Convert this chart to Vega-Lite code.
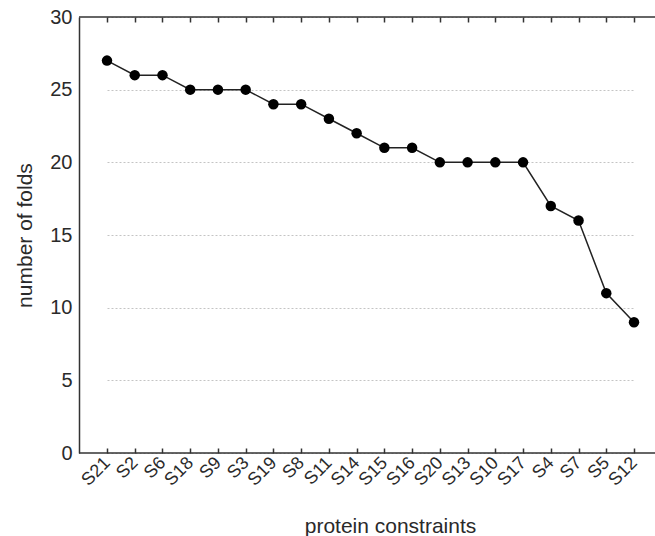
{
  "$schema": "https://vega.github.io/schema/vega-lite/v6.json",
  "width": 576,
  "height": 436,
  "autosize": {"type": "none"},
  "padding": {"left": 79, "top": 17, "right": 0, "bottom": 83},
  "background": "#ffffff",
  "config": {
    "view": {"stroke": null},
    "font": "Liberation Sans",
    "axis": {"labelFont": "Liberation Sans", "titleFont": "Liberation Sans", "labelColor": "#2a2a2a", "titleColor": "#2a2a2a", "titleFontWeight": "normal"}
  },
  "data": {
    "values": [
      {"constraint": "S21", "folds": 27},
      {"constraint": "S2", "folds": 26},
      {"constraint": "S6", "folds": 26},
      {"constraint": "S18", "folds": 25},
      {"constraint": "S9", "folds": 25},
      {"constraint": "S3", "folds": 25},
      {"constraint": "S19", "folds": 24},
      {"constraint": "S8", "folds": 24},
      {"constraint": "S11", "folds": 23},
      {"constraint": "S14", "folds": 22},
      {"constraint": "S15", "folds": 21},
      {"constraint": "S16", "folds": 21},
      {"constraint": "S20", "folds": 20},
      {"constraint": "S13", "folds": 20},
      {"constraint": "S10", "folds": 20},
      {"constraint": "S17", "folds": 20},
      {"constraint": "S4", "folds": 17},
      {"constraint": "S7", "folds": 16},
      {"constraint": "S5", "folds": 11},
      {"constraint": "S12", "folds": 9}
    ]
  },
  "layer": [
    {
      "mark": {"type": "line", "color": "#222", "strokeWidth": 1.5},
      "encoding": {
        "x": {
          "field": "constraint", "type": "ordinal", "sort": null,
          "scale": {"type": "point", "range": [28, 555], "padding": 0},
          "axis": {
            "orient": "bottom", "title": "protein constraints", "titleFontSize": 21,
            "titleX": 311, "titleY": 79, "titleBaseline": "alphabetic", "titleAnchor": "start", "titleAlign": "center",
            "labelAngle": -45, "labelAlign": "right", "labelBaseline": "middle", "labelFontSize": 18,
            "labelPadding": 12, "tickSize": -5, "tickColor": "#333", "tickWidth": 1.5,
            "domain": false, "grid": false
          }
        },
        "y": {
          "field": "folds", "type": "quantitative",
          "scale": {"domain": [0, 30], "nice": false, "zero": true},
          "axis": {
            "title": "number of folds", "titleFontSize": 21, "titlePadding": 14,
            "values": [0, 5, 10, 15, 20, 25, 30], "labelFontSize": 20, "labelPadding": 7,
            "ticks": false, "domainColor": "#333", "domainWidth": 1.5,
            "grid": true, "gridColor": "#c4c4c4", "gridDash": [2, 2], "gridWidth": 1
          }
        }
      }
    },
    {
      "mark": {"type": "point", "filled": true, "color": "#000", "size": 110, "opacity": 1},
      "encoding": {
        "x": {"field": "constraint", "type": "ordinal", "sort": null,
          "axis": {"orient": "top", "labels": false, "title": null, "tickSize": -5, "tickColor": "#333", "tickWidth": 1.5, "domain": false, "grid": false}},
        "y": {"field": "folds", "type": "quantitative"}
      }
    },
    {
      "data": {"values": [{"edge": 0}, {"edge": 30}]},
      "mark": {"type": "rule", "color": "#333", "strokeWidth": 1.5},
      "encoding": {
        "y": {"field": "edge", "type": "quantitative"}
      }
    }
  ],
  "resolve": {"axis": {"x": "independent"}}
}
